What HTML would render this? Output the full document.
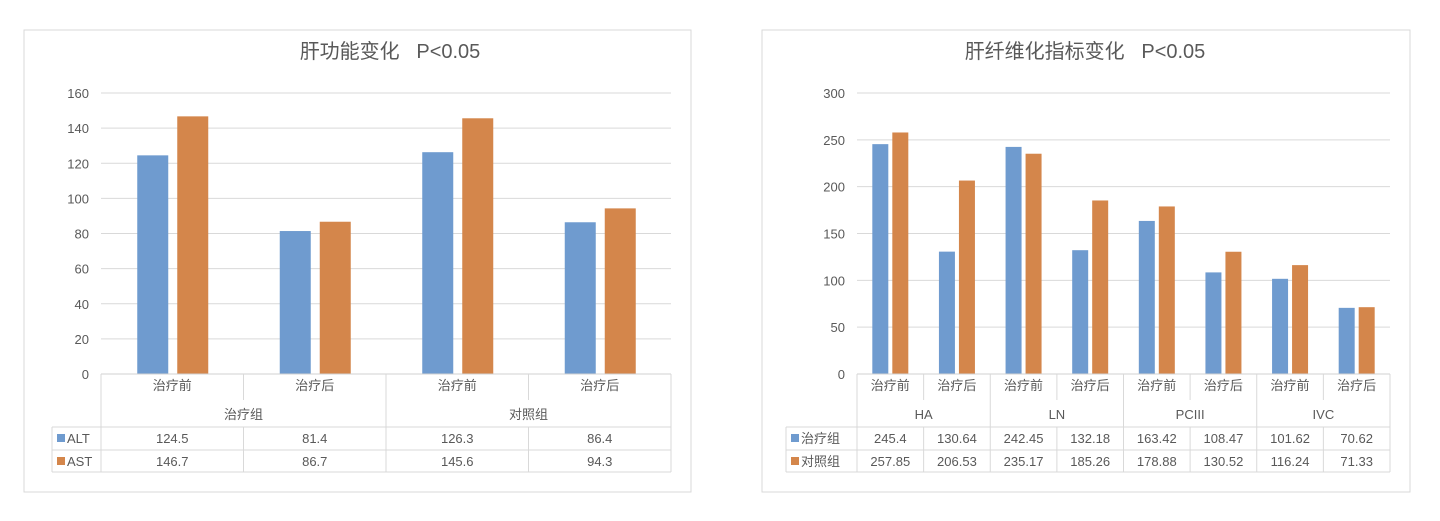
<!DOCTYPE html>
<html><head><meta charset="utf-8"><style>
body{margin:0;background:#fff;}
svg text{font-family:"Liberation Sans","Noto Sans CJK SC",sans-serif;fill:#595959;}
</style></head><body>
<svg id="s" width="1440" height="516" xmlns="http://www.w3.org/2000/svg"></svg>
<script>
var s='';
function L(x1,y1,x2,y2,c){s+=`<line x1="${x1}" y1="${y1}" x2="${x2}" y2="${y2}" stroke="${c||'#d9d9d9'}" stroke-width="1"/>`;}
function T(x,y,t,sz,a){s+=`<text x="${x}" y="${y}" font-size="${sz||13}" text-anchor="${a||'middle'}">${t}</text>`;}
function chart(o){
 s+=`<rect x="${o.px}" y="30" width="${o.pw}" height="462" fill="#fff" stroke="#d9d9d9"/>`;
 T(o.tx,58,o.title,20);
 var y0=374,ytop=93,sc=(y0-ytop)/o.max;
 for(var v=0;v<=o.max;v+=o.step){var y=y0-v*sc;if(v>0)L(o.x0,y,o.x1,y);T(o.x0-12,y+5,v,13,'end');}
 var n=o.sub.length,cw=(o.x1-o.x0)/n;
 for(var i=0;i<n;i++){var c=o.x0+cw*(i+.5);
  var h1=o.a[i]*sc,h2=o.b[i]*sc;
  s+=`<rect x="${c+o.o1}" y="${y0-h1}" width="${o.bw}" height="${h1}" fill="#6f9bcf"/>`;
  s+=`<rect x="${c+o.o2}" y="${y0-h2}" width="${o.bw}" height="${h2}" fill="#d4864b"/>`;
  T(c,390,o.sub[i]);T(c,443,o.a[i]);T(c,466,o.b[i]);
 }
 L(o.x0,374,o.x1,374,'#d0d0d0');
 var g=o.grp.length,gs=n/g;
 for(var j=0;j<g;j++)T(o.x0+cw*gs*(j+.5),419,o.grp[j]);
 for(var i=0;i<=n;i++){var x=o.x0+cw*i;
  if(i%gs==0)L(x,374,x,472);else{L(x,374,x,400);L(x,427,x,472);}}
 L(o.lx,427,o.x1,427);L(o.lx,450,o.x1,450);L(o.lx,472,o.x1,472);
 L(o.lx,427,o.lx,472);
 s+=`<rect x="${o.lx+5}" y="434" width="8" height="8" fill="#6f9bcf"/><rect x="${o.lx+5}" y="457" width="8" height="8" fill="#d4864b"/>`;
 T(o.lx+15,443,o.l1,13,'start');T(o.lx+15,466,o.l2,13,'start');
}
chart({px:24,pw:667,tx:390,title:'肝功能变化&#160;&#160;&#160;P&lt;0.05',max:160,step:20,x0:101,x1:671,
 sub:['治疗前','治疗后','治疗前','治疗后'],grp:['治疗组','对照组'],a:[124.5,81.4,126.3,86.4],b:[146.7,86.7,145.6,94.3],
 bw:31,o1:-35,o2:5,lx:52,l1:'ALT',l2:'AST'});
chart({px:762,pw:648,tx:1085,title:'肝纤维化指标变化&#160;&#160;&#160;P&lt;0.05',max:300,step:50,x0:857,x1:1390,
 sub:['治疗前','治疗后','治疗前','治疗后','治疗前','治疗后','治疗前','治疗后'],grp:['HA','LN','PCIII','IVC'],
 a:[245.4,130.64,242.45,132.18,163.42,108.47,101.62,70.62],b:[257.85,206.53,235.17,185.26,178.88,130.52,116.24,71.33],
 bw:16,o1:-18,o2:2,lx:786,l1:'治疗组',l2:'对照组'});
document.getElementById('s').innerHTML=s;
</script>
</body></html>
